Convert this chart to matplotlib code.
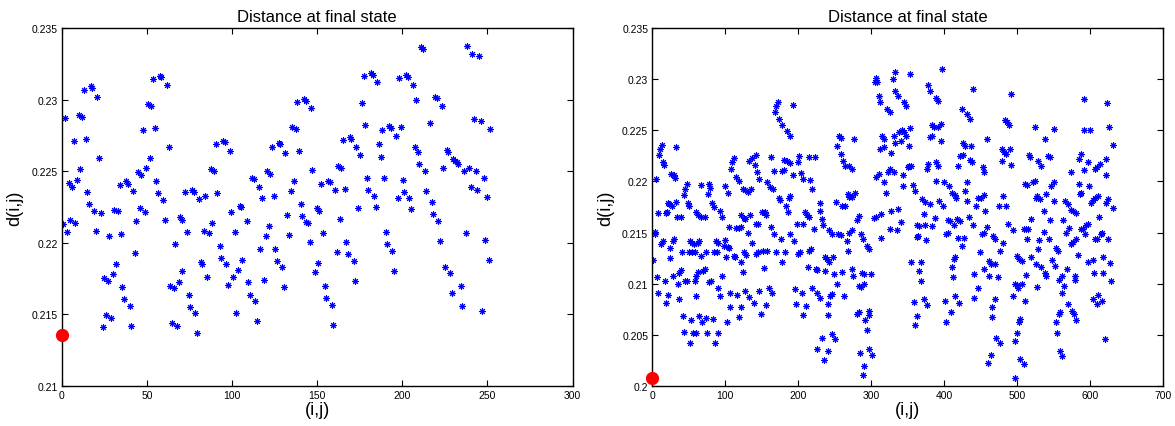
import matplotlib
matplotlib.use('Agg')
import matplotlib.pyplot as plt
from matplotlib.ticker import FormatStrFormatter

plt.rcParams['font.family'] = ['Liberation Sans', 'DejaVu Sans']

# ---------------- left panel data: (pair index, distance) ----------------
left_a = [(1,.22131),(2,.22870),(3,.22075),(4,.22416),(5,.22159),(6,.22392),(7,.22709),(8,.22136),
          (9,.22441),(10,.22894),(11,.22516),(12,.22877),(13,.23068),(14,.22726),(15,.22353),(16,.22271),
          (17,.23094),(18,.23082),(19,.22225),(20,.22085),(21,.23022),(22,.22591),(23,.22206),(24,.21413),
          (25,.21754),(26,.21497),(27,.21735),(28,.22047),(29,.21474),(30,.21782),(31,.22232),(32,.21852),
          (33,.22220),(34,.22404)]
left_b = [(35.1,.22062),(35.7,.21689),(36.8,.21607),(38.0,.22434),(39.0,.22411),(40.0,.21560),(40.9,.21420),
          (41.9,.22360),(42.9,.21926),(43.8,.22155),(44.8,.22497),(45.8,.22241),(46.8,.22476),(47.7,.22789),
          (48.7,.22218),(49.7,.22523),(50.7,.22971),(51.6,.22593),(52.6,.22959),(53.6,.23145),(54.6,.22803),
          (55.5,.22434),(56.5,.22348),(57.5,.23169),(58.5,.23157),(59.4,.22302),(60.6,.22162),(61.8,.23101),
          (62.8,.22668),(63.7,.21700),(64.7,.21439),(65.7,.21682),(66.6,.21992),(67.6,.21420),(68.6,.21728),
          (69.2,.22178),(70.4,.22162)]
left_c = [(70.9,.21805),(72.3,.22352),(73.7,.22073),(74.6,.21637),(75.6,.21553),(76.6,.22372),(77.6,.22358),
          (78.5,.21507),(79.5,.21367),(80.5,.22306),(81.7,.21868),(82.5,.21852),(83.4,.22085),(84.4,.22330),
          (85.4,.21758),(86.5,.22066),(87.5,.22516),(88.5,.22136),(89.3,.22502),(90.4,.22691),(91.4,.22346),
          (92.8,.21980),(93.7,.21894),(94.7,.22709),(95.7,.22703),(96.7,.21852),(97.6,.21707),(98.6,.22644),
          (99.6,.22213),(100.6,.21758),(101.5,.22073),(102.5,.21507),(103.5,.21810),(104.5,.22260),
          (105.5,.22248),(105.6,.21880)]
left_d = [(108.6,.22155),(109.5,.21723),(110.5,.21637),(111.9,.22453),(112.9,.22446),(113.8,.21591),
          (114.8,.21451),(115.8,.22388),(116.4,.21957),(117.6,.22313),(118.7,.21740),(119.7,.22047),
          (120.6,.22500),(121.6,.22120),(122.6,.22481),(123.6,.22672),(124.5,.22330),(125.5,.21957),
          (126.5,.21875),(127.5,.22696),(128.4,.22691),(129.4,.21828),(130.4,.21688),(131.4,.22628),
          (132.4,.22194),(133.5,.22057),(134.5,.22360),(135.5,.22807),(136.5,.22434),(137.4,.22796),
          (138.4,.22982),(139.4,.22640),(140.3,.22271),(141.3,.22190),(142.3,.23006),(143.3,.22994),
          (143.7,.22143)]
left_e = [(144.8,.22141),(145.6,.22003),(146.4,.22940),(147.2,.22509),(148.7,.21793),(149.7,.22241),
          (150.3,.21859),(151.1,.22220),(152.2,.22411),(153.6,.22068),(154.6,.21700),(155.5,.21614),
          (156.5,.22434),(157.5,.22423),(158.5,.21567),(159.4,.21427),(160.4,.22371),(161.4,.21933),
          (162.4,.22539),(163.3,.22166),(163.9,.22523),(165.3,.22719),(166.3,.22376),(167.2,.22003),
          (168.2,.21922),(169.2,.22737),(170.2,.22726),(171.6,.21875),(172.5,.21735),(173.1,.22672),
          (174.1,.22241),(175.0,.22616),(176.4,.22975),(177.4,.23169),(178.3,.22826),(179.1,.22453),
          (179.7,.22371)]
left_f = [(181.5,.23185),(182.6,.23176),(183.4,.22325),(184.4,.22253),(185.4,.23122),(186.3,.22691),
          (187.3,.22598),(188.3,.22789),(189.3,.22451),(190.2,.22078),(191.2,.21992),(192.2,.22814),
          (193.2,.22800),(194.1,.21945),(195.1,.21805),(196.3,.22744),(197.3,.22316),(198.2,.23152),
          (199.2,.22807),(200.2,.22439),(201.1,.22358),(202.1,.23176),(203.1,.23162),(204.1,.22311),
          (205.0,.22236),(206.4,.23106),(207.4,.22672),(208.3,.22999),(209.3,.22633),(209.9,.22551),
          (211.3,.23367),(212.3,.23355),(213.2,.22504),(214.2,.22365)]
left_g = [(216.4,.22840),(217.3,.22283),(218.3,.22201),(219.3,.23022),(220.3,.23013),(221.2,.22155),
          (222.2,.22015),(223.2,.22954),(224.2,.22523),(225.1,.21833),(226.1,.22649),(227.1,.22637),
          (228.1,.21786),(229.0,.21647),(230.0,.22586),(231.0,.22574),(232.0,.22563),(232.9,.22551),
          (234.3,.21700),(234.9,.21560),(236.3,.22504),(237.2,.22068),(238.2,.23374),(239.2,.22523),
          (240.1,.22388),(241.1,.23320),(242.1,.22869),(243.1,.22504),(244.0,.22369),(245.0,.23304),
          (246.0,.22853),(247.0,.21521),(247.9,.22453),(248.9,.22020),(249.9,.22318),(251.1,.21882),
          (251.8,.22799)]
left_start = (0, 0.21355)

# ---------------- right panel data ----------------
right_a = [(1.5,.2123),(3,.2149),(4,.2151),(5,.2202),(6,.2106),(8,.2169),(8,.2091),(9,.2226),(10,.2232),
           (12.5,.2236),(12,.2139),(14,.2142),(14,.2219),(16.5,.2216),(17,.2103),(18,.2169),(18,.2081),
           (20,.2170),(21,.2179),(23,.2178),(22,.2089),(24,.2135),(24,.2125),(25,.2207),(26.5,.2176),
           (28,.2107),(29,.2206),(30.5,.2203),(28,.2142),(29,.2144),(32,.2180),(33,.2234),(34,.2165),
           (36,.2085),(35,.2100),(37,.2110),(39,.2113),(39,.2165),(40,.2131),(42,.2068),(43,.2187),
           (45,.2193),(43,.2053),(45,.2103),(48,.2103),(47,.2198),(48.5,.2179),(49.5,.2131),(50.5,.2176),
           (51.5,.2042),(52.5,.2064),(55.5,.2052),(54.5,.2131)]
right_b = [(52,.2142),(54,.2140),(57,.2139),(58,.2131),(60,.2170),(63,.2167),(67,.2165),(72,.2165),
           (58,.2103),(60,.2107),(63,.2111),(60,.2088),(60,.2052),(62,.2140),(64,.2142),(67,.2197),
           (64,.2068),(68,.2062),(67,.2127),(69,.2112),(72,.2114),(73,.2066),(74,.2131),(75,.2052),
           (76,.2188),(78,.2198),(79,.2194),(78,.2102),(80,.2103),(82,.2179),(84,.2175),(84,.2131),
           (88,.2131),(83,.2065),(86,.2042),(87,.2142),(90,.2140),(90,.2052),(90,.2096),(92,.2088),
           (92,.2171),(95,.2165),(95,.2107),(98,.2137),(99,.2143),(100,.2196),(101,.2126),(102,.2062),
           (103,.2136),(105,.2135),(103,.2189)]
right_c = [(105,.2155),(107,.2091),(107,.2077),(108,.2212),(109,.2219),(112,.2223),(112,.2127),(113,.2126),
           (115,.2204),(118,.2200),(115,.2154),(119,.2154),(121,.2155),(116,.2089),(118,.2067),(121,.2077),
           (122,.2121),(124,.2111),(122,.2167),(125,.2164),(127,.2163),(126,.2131),(128,.2128),(124,.2193),
           (127,.2192),(131,.2190),(135,.2193),(127,.2093),(132,.2220),(136,.2223),(131,.2150),(132,.2087),
           (134,.2167),(136,.2140),(139,.2081),(140,.2216),(142,.2226),(142,.2158),(145,.2158),(142,.2129),
           (145,.2131),(144,.2209),(146,.2202),(146,.2093),(149,.2070),(150,.2170),(154,.2170),(156,.2167),
           (152,.2132),(157,.2132),(153,.2115),(157,.2199),(161,.2195),(165,.2193),(155,.2079),(160,.2096),
           (162,.2155),(164,.2091),(162,.2224),(167,.2210),(166,.2149),(169,.2131),(168,.2268),(170,.2274),
           (172,.2278),(173,.2184),(175,.2182),(174,.2261),(177,.2255),(176,.2144),(178,.2210),(181,.2211),
           (178,.2121),(180,.2221),(184,.2220),(182,.2131),(183,.2176),(186,.2170),(185,.2249),(189,.2245),
           (187,.2184),(189,.2186),(188,.2149),(189,.2218),(193,.2275),(193,.2206),(194,.2142),(195,.2095),
           (197,.2080),(198,.2158),(199,.2219),(201,.2225),(200,.2129),(202,.2131)]
right_d = [(203,.2208),(206,.2202),(205,.2091),(207,.2158),(207,.2069),(209,.2170),(212,.2167),(214,.2165),
           (210,.2078),(213,.2116),(214,.2224),(215,.2132),(218,.2134),(216,.2201),(219,.2193),(219,.2096),
           (221,.2153),(223,.2224),(224,.2114),(226,.2113),(225,.2036),(226,.2091),(229,.2086),(229,.2171),
           (230,.2179),(232,.2163),(233,.2047),(234,.2157),(235,.2025),(236,.2126),(239,.2124),(242,.2121),
           (237,.2112),(240,.2080),(241,.2034),(241,.2069),(242,.2152),(246,.2149),(244,.2088),(246,.2090),
           (246,.2051),(248,.2126),(249,.2109),(250,.2046),(251,.2180),(253,.2100),(253,.2235),(256,.2245),
           (258,.2243),(255,.2149),(258,.2148),(258,.2227),(261,.2220),(264,.2215),(260,.2176),(264,.2176),
           (260,.2111),(263,.2088),(266,.2142),(268,.2132),(268,.2188),(270,.2185),(269,.2215),(273,.2212),
           (270,.2150),(274,.2152),(273,.2114),(274,.2185),(277,.2189),(276,.2242),(275,.2107),(280,.2070),
           (283,.2072),(280,.2162),(283,.2166),(283,.2098),(286,.2097),(284,.2032),(286,.2149),(288,.2144),
           (287,.2110),(288,.2010),(290,.2019),(290,.2109),(290,.2100),(291,.2064),(294,.2137),(297,.2134),
           (294,.2055),(297,.2036),(297,.2073),(297,.2069),(300,.2109),(301,.2030)]
right_e = [(303,.2164),(306,.2165),(305,.2297),(306,.2301),(308,.2297),(306,.2204),(310,.2207),(310,.2284),
           (312,.2278),(312,.2232),(313,.2145),(313,.2168),(315,.2245),(317,.2234),(318,.2242),(318,.2199),
           (320,.2189),(322,.2271),(326,.2268),(323,.2209),(326,.2212),(326,.2153),(327,.2228),(327,.2171),
           (330,.2300),(332,.2307),(331,.2245),(331,.2209),(332,.2238),(333,.2289),(336,.2284),(335,.2152),
           (337,.2173),(338,.2248),(341,.2240),(342,.2250),(340,.2160),(343,.2206),(343,.2196),(345,.2278),
           (348,.2274),(345,.2248),(348,.2245),(350,.2214),(352,.2215),(355,.2215),(351,.2235),(353,.2305),
           (353,.2252),(355,.2121),(357,.2197),(360,.2191),(358,.2082),(360,.2059),(362,.2146),(364,.2147),
           (362,.2157),(366,.2156),(363,.2068),(366,.2112),(368,.2121),(368,.2103),(369,.2183),(372,.2168),
           (373,.2157),(372,.2085),(373,.2180),(375,.2143),(376,.2079),(376,.2212),(378,.2217),(378,.2294),
           (381,.2289),(380,.2244),(383,.2245),(381,.2178),(383,.2156),(383,.2255),(386,.2253),(387,.2164),
           (388,.2282),(392,.2279),(388,.2219),(391,.2215),(388,.2200),(392,.2253),(393,.2181),(395,.2256),
           (396,.2240),(397,.2310),(398,.2176),(399,.2199)]
right_f = [(402,.2149),(405,.2150),(401,.2083),(403,.2062),(405,.2162),(408,.2161),(406,.2196),(410,.2189),
           (409,.2072),(410,.2116),(412,.2106),(413,.2124),(415,.2126),(413,.2157),(417,.2163),(414,.2187),
           (416,.2184),(415,.2088),(419,.2215),(420,.2081),(419,.2145),(421,.2161),(422,.2225),(425,.2226),
           (424,.2271),(424,.2137),(426,.2238),(429,.2235),(427,.2145),(429,.2191),(431,.2199),(431,.2181),
           (431,.2266),(435,.2261),(434,.2165),(435,.2221),(438,.2219),(436,.2235),(439,.2291),(439,.2157),
           (441,.2109),(441,.2086),(444,.2176),(446,.2096),(446,.2184),(450,.2184),(454,.2187),(449,.2131),
           (451,.2149),(454,.2150),(453,.2214),(455,.2209),(454,.2114),(456,.2171),(459,.2242),(459,.2155),
           (460,.2022),(461,.2122),(464,.2119),(461,.2107),(464,.2030),(466,.2077),(469,.2085),(466,.2067),
           (467,.2147),(470,.2144),(469,.2119),(471,.2047),(476,.2042),(474,.2106),(475,.2176),(476,.2132),
           (479,.2220),(479,.2232),(482,.2229),(485,.2227),(481,.2140),(481,.2186),(483,.2260),(486,.2258),
           (489,.2255),(484,.2176),(487,.2158),(490,.2232),(491,.2216),(492,.2286),(494,.2152),(494,.2088),
           (497,.2100),(497,.2008),(497,.2044),(500,.2052),(499,.2099),(501,.2096)]
right_g = [(500,.2127),(503,.2124),(503,.2062),(504,.2065),(504,.2026),(506,.2122),(507,.2100),(509,.2021),
           (509,.2153),(512,.2153),(515,.2153),(510,.2083),(511,.2198),(514,.2197),(512,.2108),(514,.2144),
           (516,.2226),(518,.2224),(519,.2163),(519,.2126),(521,.2199),(524,.2200),(524,.2253),(525,.2184),
           (527,.2186),(526,.2119),(527,.2097),(528,.2134),(530,.2143),(529,.2220),(532,.2215),(531,.2183),
           (533,.2116),(536,.2171),(537,.2151),(538,.2242),(538,.2110),(539,.2107),(540,.2188),(542,.2225),
           (545,.2224),(543,.2144),(545,.2162),(546,.2196),(547,.2123),(550,.2199),(550,.2181),(551,.2251),
           (552,.2117),(553,.2135),(556,.2132),(553,.2062),(554,.2052),(557,.2104),(557,.2070),(558,.2072),
           (559,.2034),(562,.2029),(561,.2107),(562,.2091),(563,.2162),(564,.2098),(566,.2181),(569,.2178),
           (567,.2150),(568,.2114),(570,.2080),(571,.2154),(573,.2209),(573,.2139),(576,.2141),(573,.2172),
           (576,.2171),(580,.2169),(575,.2073),(578,.2070),(581,.2064),(579,.2107),(579,.2104),(581,.2144),
           (583,.2128),(584,.2198),(584,.2222),(588,.2227),(586,.2188),(588,.2189),(587,.2153),(590,.2153),
           (591,.2281),(591,.2250),(592,.2211),(593,.2149),(594,.2157),(597,.2158),(597,.2219),(597,.2121),
           (599,.2196)]
right_h = [(600,.2250),(601,.2179),(604,.2182),(606,.2184),(604,.2085),(604,.2123),(605,.2110),(607,.2144),
           (609,.2144),(607,.2212),(609,.2214),(609,.2080),(611,.2089),(611,.2186),(612,.2165),(613,.2217),
           (615,.2149),(616,.2150),(616,.2083),(617,.2126),(618,.2110),(620,.2046),(621,.2179),(621,.2222),
           (622,.2206),(623,.2277),(624,.2144),(625,.2183),(626,.2253),(627,.2120),(629,.2103),(631,.2236),
           (631,.2174)]
right_start = (0, 0.20075)

left_series = [left_a, left_b, left_c, left_d, left_e, left_f, left_g]
right_series = [right_a, right_b, right_c, right_d, right_e, right_f, right_g, right_h]

title_text = 'Distance at final state'
xlabel_text = '(i,j)'
ylabel_text = 'd(i,j)'

W, H = 1175, 427
fig = plt.figure(figsize=(W / 100, H / 100), dpi=100)
ax_l = fig.add_axes([61.7 / W, (H - 386.7) / H, 510.8 / W, 357.4 / H])
ax_r = fig.add_axes([652.4 / W, (H - 386.7) / H, 510.8 / W, 357.4 / H])

asterisk = (8, 2, 0)


def draw(ax, series, start, xlim, ylim, xticks, yticks):
    xs = [p[0] for s in series for p in s]
    ys = [p[1] for s in series for p in s]
    ax.plot(xs, ys, linestyle='none', marker=asterisk, markersize=4.8,
            markeredgecolor='#0000ff', markerfacecolor='#0000ff', markeredgewidth=0.75)
    ax.plot([start[0]], [start[1]], linestyle='none', marker='o', markersize=8.5,
            color='#ff0000', clip_on=False, zorder=5)
    ax.set_xlim(*xlim)
    ax.set_ylim(*ylim)
    ax.set_xticks(xticks)
    ax.set_yticks(yticks)
    ax.yaxis.set_major_formatter(FormatStrFormatter('%g'))
    ax.tick_params(direction='in', top=True, right=True, labelsize=7.5, length=4,
                   width=0.8, pad=3)
    for sp in ax.spines.values():
        sp.set_linewidth(1.0)
    ax.set_title(title_text, fontsize=12, pad=5)
    ax.set_xlabel(xlabel_text, fontsize=13, labelpad=1)
    ax.set_ylabel(ylabel_text, fontsize=13, labelpad=6)


draw(ax_l, left_series, left_start, (0, 300), (0.21, 0.235),
     list(range(0, 301, 50)), [0.21, 0.215, 0.22, 0.225, 0.23, 0.235])
draw(ax_r, right_series, right_start, (0, 700), (0.2, 0.235),
     list(range(0, 701, 100)), [0.2, 0.205, 0.21, 0.215, 0.22, 0.225, 0.23, 0.235])

fig.savefig('out.png', dpi=100)
